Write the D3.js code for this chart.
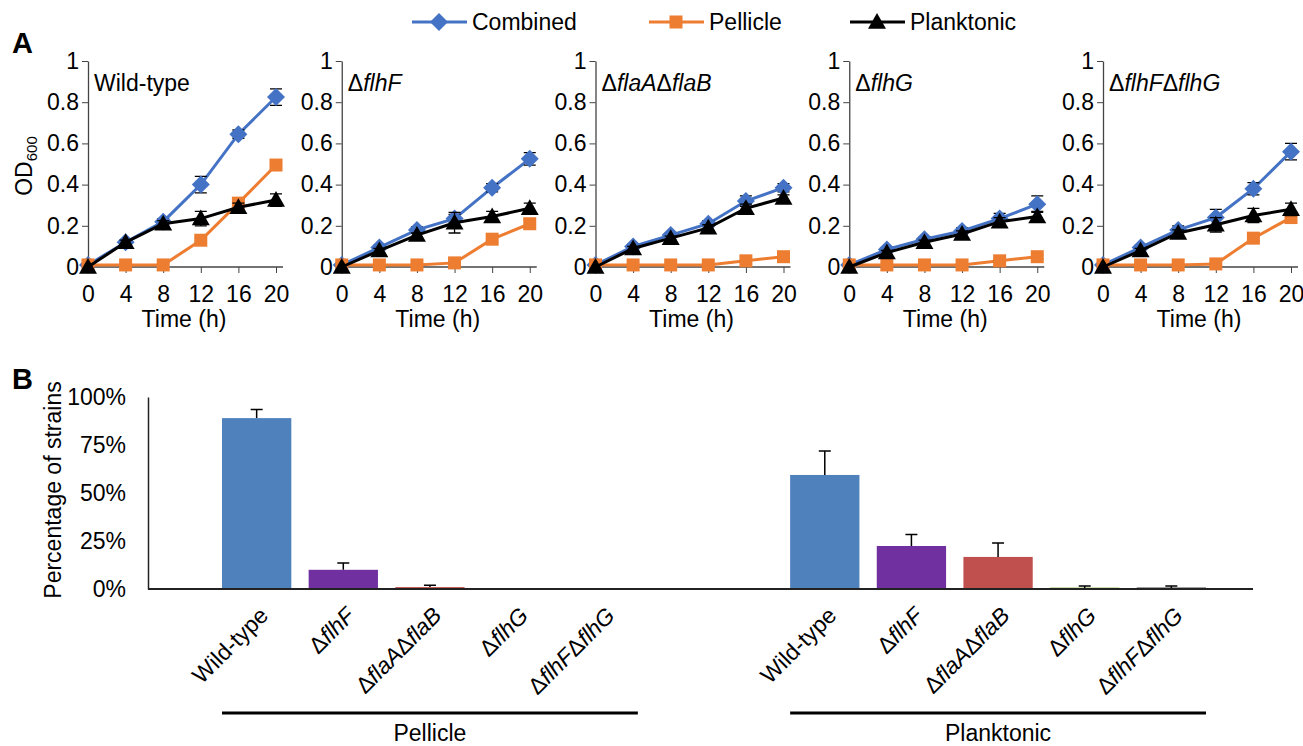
<html>
<head>
<meta charset="utf-8">
<title>Growth and pellicle formation</title>
<script src="https://cdn.jsdelivr.net/npm/d3@7"></script>
<style>
  html, body { margin: 0; padding: 0; background: #fff; }
  svg { font-family: Arial, "Liberation Sans", sans-serif; }
  .tick text { font-size: 23px; fill: #000; }
</style>
</head>
<body>
<svg width="1303" height="746" id="mainsvg"></svg>
<script>
// ---- data ----
const times = [0, 4, 8, 12, 16, 20];
const strains = ['Wild-type', 'ΔflhF', 'ΔflaAΔflaB', 'ΔflhG', 'ΔflhFΔflhG'];
const seriesNames = ['Combined', 'Pellicle', 'Planktonic'];

const combined = [
  [0.01, 0.12, 0.22, 0.40, 0.645, 0.825],
  [0.01, 0.095, 0.18, 0.235, 0.385, 0.525],
  [0.01, 0.10, 0.155, 0.21, 0.32, 0.385],
  [0.01, 0.085, 0.135, 0.175, 0.235, 0.305],
  [0.01, 0.095, 0.18, 0.24, 0.38, 0.56]
];
const combinedErr = [
  [0, 0.01, 0.015, 0.04, 0.02, 0.04],
  [0, 0.01, 0.015, 0.02, 0.02, 0.03],
  [0, 0.01, 0.01, 0.015, 0.025, 0.02],
  [0, 0.01, 0.01, 0.015, 0.025, 0.04],
  [0, 0.01, 0.02, 0.04, 0.03, 0.04]
];
const pellicle = [
  [0.01, 0.01, 0.01, 0.13, 0.31, 0.495],
  [0.01, 0.01, 0.01, 0.02, 0.135, 0.21],
  [0.01, 0.01, 0.01, 0.01, 0.03, 0.05],
  [0.01, 0.01, 0.01, 0.01, 0.03, 0.05],
  [0.01, 0.01, 0.01, 0.015, 0.14, 0.24]
];
const pellicleErr = [
  [0, 0, 0, 0.01, 0.02, 0.02],
  [0, 0, 0, 0.005, 0.015, 0.02],
  [0, 0, 0, 0, 0.005, 0.01],
  [0, 0, 0, 0, 0.005, 0.01],
  [0, 0, 0, 0.005, 0.015, 0.02]
];
const planktonic = [
  [0.0, 0.12, 0.21, 0.235, 0.29, 0.325],
  [0.0, 0.08, 0.155, 0.215, 0.245, 0.285],
  [0.0, 0.09, 0.14, 0.19, 0.285, 0.335],
  [0.0, 0.07, 0.12, 0.16, 0.22, 0.245],
  [0.0, 0.08, 0.165, 0.205, 0.25, 0.28]
];
const planktonicErr = [
  [0, 0.01, 0.015, 0.035, 0.02, 0.03],
  [0, 0.01, 0.01, 0.05, 0.025, 0.025],
  [0, 0.01, 0.01, 0.015, 0.02, 0.015],
  [0, 0.01, 0.01, 0.015, 0.02, 0.025],
  [0, 0.01, 0.015, 0.035, 0.035, 0.03]
];
const yTicksA = [0, 0.2, 0.4, 0.6, 0.8, 1];

// panel B
const groups = ['Pellicle', 'Planktonic'];
const pctPellicle = [0.89, 0.10, 0.01, 0, 0];
const pctPellicleErr = [0.045, 0.035, 0.01, 0, 0];
const pctPlanktonic = [0.594, 0.224, 0.167, 0.005, 0.005];
const pctPlanktonicErr = [0.125, 0.06, 0.073, 0.01, 0.01];
const yTicksB = [0, 0.25, 0.5, 0.75, 1];

// ---- styling ----
const lineColors = ['#4472C4', '#ED7D31', '#000000'];
const barColors = ['#4F81BD', '#7030A0', '#C0504D', '#9BBB59', '#404040'];
const font = 23;

const svg = d3.select('#mainsvg');

// Excel-like marker shapes (size = half-width in px)
const diamond = { draw(c, r) { c.moveTo(0, -r); c.lineTo(r, 0); c.lineTo(0, r); c.lineTo(-r, 0); c.closePath(); } };
const square = { draw(c, r) { c.rect(-r, -r, 2 * r, 2 * r); } };
const triangle = { draw(c, r) { c.moveTo(0, -r); c.lineTo(r, r * 0.75); c.lineTo(-r, r * 0.75); c.closePath(); } };
const symbols = [diamond, square, triangle];
const symSizes = [9, 6.5, 9];

// label with upright delta and italic gene names
function geneText(sel, label) {
  if (label.indexOf('Δ') < 0) { sel.append('tspan').text(label); return; }
  label.split('Δ').filter(s => s.length).forEach(part => {
    sel.append('tspan').text('Δ');
    sel.append('tspan').attr('font-style', 'italic').text(part);
  });
}

// ================= Panel A =================
const seriesData = [combined, pellicle, planktonic];
const seriesErr = [combinedErr, pellicleErr, planktonicErr];
const panelX = d3.scaleLinear().domain([0, strains.length - 1]).range([88, 1103]);
const plotW = 188;
const yA = d3.scaleLinear().domain([0, 1]).range([267, 61]);

svg.append('text').attr('x', 12).attr('y', 53).attr('font-size', 29).attr('font-weight', 'bold').text('A');

strains.forEach((name, i) => {
  const x0 = panelX(i);
  const xA = d3.scaleLinear().domain([0, 20]).range([x0, x0 + plotW]);
  const g = svg.append('g');

  // axes
  const yAxis = g.append('g').attr('transform', `translate(${x0},0)`)
    .call(d3.axisLeft(yA).tickValues(yTicksA).tickFormat(d3.format('~g')).tickSize(6).tickPadding(3).tickSizeOuter(0));
  yAxis.select('.domain').attr('stroke', '#444').attr('stroke-width', 1.3);
  yAxis.selectAll('.tick line').attr('stroke', '#444');

  const xAxis = g.append('g').attr('transform', `translate(0,${yA(0)})`)
    .call(d3.axisBottom(xA).tickValues(times).tickSize(6).tickPadding(13).tickSizeOuter(0));
  xAxis.select('.domain').attr('d', `M${x0},0H${x0 + plotW + 7}`).attr('stroke', '#444').attr('stroke-width', 1.3);
  xAxis.selectAll('.tick line').attr('stroke', '#444');

  g.append('text').attr('x', x0 + plotW / 2 + 2).attr('y', 327).attr('text-anchor', 'middle')
    .attr('font-size', font).text('Time (h)');

  geneText(g.append('text').attr('x', x0 + 6).attr('y', 91).attr('font-size', font), name);

  // series
  [0, 1, 2].forEach(s => {
    const vals = seriesData[s][i];
    const errs = seriesErr[s][i];
    const pts = times.map((t, k) => ({ t, v: vals[k], e: errs[k] }));
    const ser = g.append('g');
    ser.append('path').datum(pts)
      .attr('fill', 'none').attr('stroke', lineColors[s]).attr('stroke-width', 3)
      .attr('d', d3.line().x(d => xA(d.t)).y(d => yA(d.v)));
    ser.selectAll('path.err').data(pts.filter(d => d.e > 0)).join('path').attr('class', 'err')
      .attr('stroke', '#000').attr('stroke-width', 1.3).attr('fill', 'none')
      .attr('d', d => {
        const x = xA(d.t), y1 = yA(d.v + d.e), y2 = yA(d.v - d.e);
        return `M${x},${y1}V${y2}M${x - 6},${y1}H${x + 6}M${x - 6},${y2}H${x + 6}`;
      });
    ser.selectAll('path.mk').data(pts).join('path').attr('class', 'mk')
      .attr('transform', d => `translate(${xA(d.t)},${yA(d.v)})`)
      .attr('d', d3.symbol().type(symbols[s]).size(symSizes[s]))
      .attr('fill', lineColors[s]);
  });
});

// OD600 axis title
const odT = svg.append('text').attr('transform', 'translate(32,166) rotate(-90)')
  .attr('text-anchor', 'middle').attr('font-size', font);
odT.append('tspan').text('OD');
odT.append('tspan').attr('font-size', 15).attr('dy', 5).text('600');

// legend
const legendX = [412, 649, 850];
seriesNames.forEach((n, s) => {
  const lg = svg.append('g').attr('transform', `translate(${legendX[s]},22)`);
  lg.append('line').attr('x1', 0).attr('x2', 55).attr('stroke', lineColors[s]).attr('stroke-width', 3);
  lg.append('path').attr('transform', 'translate(27,0)')
    .attr('d', d3.symbol().type(symbols[s]).size(symSizes[s])).attr('fill', lineColors[s]);
  lg.append('text').attr('x', 60).attr('y', 8).attr('font-size', font).text(n);
});

// ================= Panel B =================
svg.append('text').attr('x', 12).attr('y', 389).attr('font-size', 29).attr('font-weight', 'bold').text('B');

const yB = d3.scaleLinear().domain([0, 1]).range([589, 397]);
const outer = d3.scaleBand().domain(groups).range([222, 1206]).paddingInner(0.268).paddingOuter(0);
const inner = d3.scaleBand().domain(strains).range([0, outer.bandwidth()]).paddingInner(0.2).paddingOuter(0);

const yAxB = svg.append('g').attr('transform', 'translate(148,0)')
  .call(d3.axisLeft(yB).tickValues(yTicksB).tickFormat(d3.format('.0%')).tickSize(0).tickPadding(22));
yAxB.select('.domain').attr('stroke', '#222').attr('stroke-width', 1.5);

svg.append('text').attr('transform', 'translate(61,490) rotate(-90)').attr('text-anchor', 'middle')
  .attr('font-size', font).text('Percentage of strains');

const groupVals = [pctPellicle, pctPlanktonic];
const groupErrs = [pctPellicleErr, pctPlanktonicErr];

groups.forEach((grp, gi) => {
  const gx = outer(grp);
  const bars = strains.map((s, k) => ({ s, k, v: groupVals[gi][k], e: groupErrs[gi][k] }));
  const gg = svg.append('g').attr('transform', `translate(${gx},0)`);
  gg.selectAll('rect').data(bars.filter(d => d.v > 0)).join('rect')
    .attr('x', d => inner(d.s)).attr('width', inner.bandwidth())
    .attr('y', d => Math.min(yB(d.v), yB(0) - 1.5)).attr('height', d => Math.max(yB(0) - yB(d.v), 1.5))
    .attr('fill', d => barColors[d.k]);
  gg.selectAll('path.err').data(bars.filter(d => d.e > 0)).join('path').attr('class', 'err')
    .attr('stroke', '#000').attr('stroke-width', 1.5).attr('fill', 'none')
    .attr('d', d => {
      const x = inner(d.s) + inner.bandwidth() / 2, y1 = yB(d.v + d.e), y2 = yB(d.v);
      return `M${x},${y1}V${y2}M${x - 6},${y1}H${x + 6}`;
    });
  // rotated labels
  bars.forEach(d => {
    const cx = inner(d.s) + inner.bandwidth() / 2 + 13;
    geneText(gg.append('text').attr('text-anchor', 'end').attr('font-size', font)
      .attr('transform', `translate(${cx},617) rotate(-45)`), d.s);
  });
  // group underline and label
  gg.append('line').attr('x1', 0).attr('x2', outer.bandwidth()).attr('y1', 713).attr('y2', 713)
    .attr('stroke', '#000').attr('stroke-width', 3);
  gg.append('text').attr('x', outer.bandwidth() / 2).attr('y', 741).attr('text-anchor', 'middle')
    .attr('font-size', font).text(grp);
});

// category axis line
svg.append('line').attr('x1', 148).attr('x2', 1253).attr('y1', yB(0)).attr('y2', yB(0))
  .attr('stroke', '#222').attr('stroke-width', 2);
</script>
</body>
</html>
